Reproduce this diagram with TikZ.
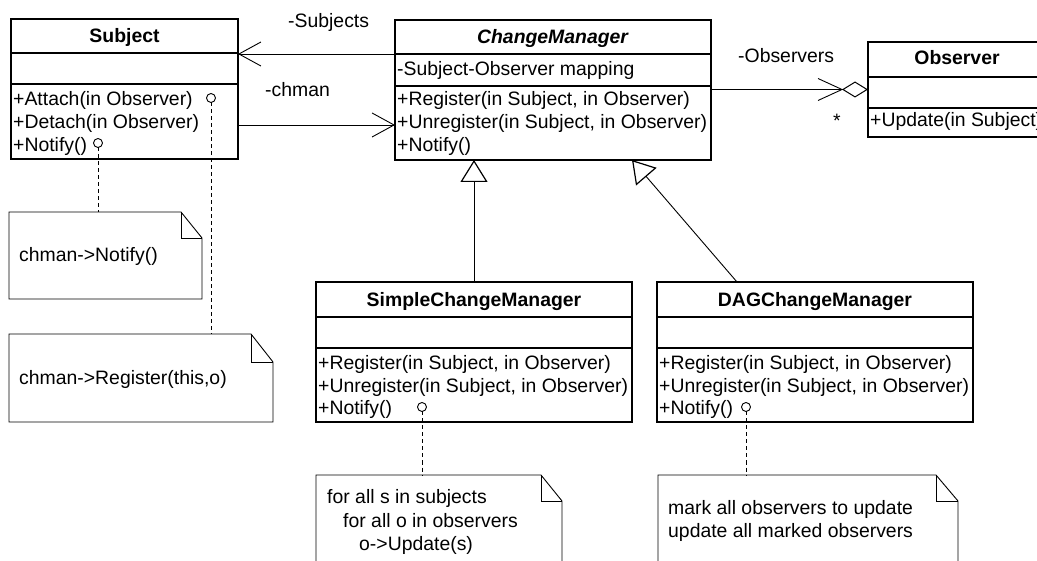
\documentclass[tikz,border=0pt]{standalone}
\usepackage{fontspec}
\setmainfont{Liberation Sans}
\usetikzlibrary{arrows.meta,calc}
\tikzset{
 cls/.style={draw, line width=1.4pt, anchor=north west, inner sep=0pt, outer sep=0pt, fill=white},
 sepline/.style={line width=1.4pt},
 txt/.style={inner sep=0pt, font=\fontsize{19.4}{23}\selectfont},
 assoc/.style={line width=0.9pt, -{Straight Barb[length=22pt,width=24pt,line width=0.9pt]}},
 gen/.style={line width=0.9pt, -{Triangle[open,length=22pt,width=27pt,line width=1.2pt]}},
 notebox/.style={anchor=north west, inner sep=0pt, outer sep=0pt},
 noteline/.style={line width=0.9pt, line join=miter},
 lolli/.style={circle, draw, line width=0.9pt, minimum size=9pt, inner sep=0pt, outer sep=0pt, fill=white},
 notelink/.style={line width=1pt, dash pattern=on 4pt off 3pt},
}
\newcommand{\umlnote}[3]{%
 \draw[noteline] (#1.north west) -- ($(#1.north east)+(-#2,0)$) -- ($(#1.north east)+(0,#3)$) -- (#1.south east) -- (#1.south west) -- cycle;
 \draw[noteline] ($(#1.north east)+(-#2,0)$) -- ($(#1.north east)+(-#2,#3)$) -- ($(#1.north east)+(0,#3)$);}
\begin{document}
\begin{tikzpicture}[x=1pt,y=-1pt]
\useasboundingbox (0,0) rectangle (1037,561);
\fill[white] (0,0) rectangle (1037,561);
\clip (0,0) rectangle (1037,561);

% ---------- Subject ----------
\node[cls, minimum width=227pt, minimum height=140pt] (subj) at (11,19) {};
\draw[sepline] ($(subj.north west)+(0,34)$) -- ($(subj.north east)+(0,34)$);
\draw[sepline] ($(subj.north west)+(0,65)$) -- ($(subj.north east)+(0,65)$);
\node[txt, anchor=base] (subjT) at ($(subj.north)+(0,24)$) {\textbf{Subject}};
\node[txt, anchor=base west] (subjO1) at ($(subj.north west)+(2,87)$) {+Attach(in Observer)};
\node[txt, anchor=base west] (subjO2) at ($(subj.north west)+(2,110)$) {+Detach(in Observer)};
\node[txt, anchor=base west] (subjO3) at ($(subj.north west)+(2,133)$) {+Notify()};

% ---------- ChangeManager ----------
\node[cls, minimum width=316pt, minimum height=140pt] (cm) at (395,20) {};
\draw[sepline] ($(cm.north west)+(0,34)$) -- ($(cm.north east)+(0,34)$);
\draw[sepline] ($(cm.north west)+(0,66)$) -- ($(cm.north east)+(0,66)$);
\node[txt, anchor=base] (cmT) at ($(cm.north)+(0,23.5)$) {\textbf{\textit{ChangeManager}}};
\node[txt, anchor=base west] (cmA1) at ($(cm.north west)+(2,55.5)$) {-Subject-Observer mapping};
\node[txt, anchor=base west] (cmO1) at ($(cm.north west)+(2,86)$) {+Register(in Subject, in Observer)};
\node[txt, anchor=base west] (cmO2) at ($(cm.north west)+(2,109)$) {+Unregister(in Subject, in Observer)};
\node[txt, anchor=base west] (cmO3) at ($(cm.north west)+(2,132)$) {+Notify()};

% ---------- Observer ----------
\node[cls, minimum width=178pt, minimum height=95pt] (obs) at (868,42) {};
\draw[sepline] ($(obs.north west)+(0,35)$) -- ($(obs.north east)+(0,35)$);
\draw[sepline] ($(obs.north west)+(0,66)$) -- ($(obs.north east)+(0,66)$);
\node[txt, anchor=base] (obsT) at ($(obs.north)+(0,23)$) {\textbf{Observer}};
\node[txt, anchor=base west] (obsO1) at ($(obs.north west)+(2,85)$) {+Update(in Subject)};

% ---------- SimpleChangeManager ----------
\node[cls, minimum width=316pt, minimum height=140pt] (scm) at (316,282) {};
\draw[sepline] ($(scm.north west)+(0,35)$) -- ($(scm.north east)+(0,35)$);
\draw[sepline] ($(scm.north west)+(0,66)$) -- ($(scm.north east)+(0,66)$);
\node[txt, anchor=base] (scmT) at ($(scm.north)+(0,24.5)$) {\textbf{SimpleChangeManager}};
\node[txt, anchor=base west] (scmO1) at ($(scm.north west)+(2,88)$) {+Register(in Subject, in Observer)};
\node[txt, anchor=base west] (scmO2) at ($(scm.north west)+(2,111)$) {+Unregister(in Subject, in Observer)};
\node[txt, anchor=base west] (scmO3) at ($(scm.north west)+(2,133)$) {+Notify()};

% ---------- DAGChangeManager ----------
\node[cls, minimum width=316pt, minimum height=140pt] (dcm) at (657,282) {};
\draw[sepline] ($(dcm.north west)+(0,35)$) -- ($(dcm.north east)+(0,35)$);
\draw[sepline] ($(dcm.north west)+(0,66)$) -- ($(dcm.north east)+(0,66)$);
\node[txt, anchor=base] (dcmT) at ($(dcm.north)+(0,24.5)$) {\textbf{DAGChangeManager}};
\node[txt, anchor=base west] (dcmO1) at ($(dcm.north west)+(2,88)$) {+Register(in Subject, in Observer)};
\node[txt, anchor=base west] (dcmO2) at ($(dcm.north west)+(2,111)$) {+Unregister(in Subject, in Observer)};
\node[txt, anchor=base west] (dcmO3) at ($(dcm.north west)+(2,133)$) {+Notify()};

% ---------- Notes ----------
\node[notebox, minimum width=193pt, minimum height=87pt] (n1) at (9,212) {};
\umlnote{n1}{21}{26}
\node[txt, anchor=base west] (n1t) at ($(n1.north west)+(10,50)$) {chman->Notify()};

\node[notebox, minimum width=264pt, minimum height=88pt] (n2) at (9,334) {};
\umlnote{n2}{22}{28}
\node[txt, anchor=base west] (n2t) at ($(n2.north west)+(10,51)$) {chman->Register(this,o)};

\node[notebox, minimum width=246pt, minimum height=120pt] (n3) at (316,475) {};
\umlnote{n3}{21}{26}
\node[txt, anchor=base west] (n3t1) at ($(n3.north west)+(11,28)$) {for all s in subjects};
\node[txt, anchor=base west] (n3t2) at ($(n3.north west)+(27,52)$) {for all o in observers};
\node[txt, anchor=base west] (n3t3) at ($(n3.north west)+(43,75)$) {o->Update(s)};

\node[notebox, minimum width=300pt, minimum height=120pt] (n4) at (658,475) {};
\umlnote{n4}{22}{26}
\node[txt, anchor=base west] (n4t1) at ($(n4.north west)+(10,39)$) {mark all observers to update};
\node[txt, anchor=base west] (n4t2) at ($(n4.north west)+(10,62)$) {update all marked observers};

% ---------- Lollipops and note links ----------
\node[lolli] (lA) at (211,98) {};
\node[lolli] (lN) at (98,143) {};
\node[lolli] (lS) at (422,407) {};
\node[lolli] (lD) at (746,407) {};
\draw[notelink] (lA.south) -- (lA.south |- n2.north);
\draw[notelink] (lN.south) -- (lN.south |- n1.north);
\draw[notelink] (lS.south) -- (lS.south |- n3.north);
\draw[notelink] (lD.south) -- (lD.south |- n4.north);

% ---------- Associations ----------
\draw[assoc] ($(cm.north west)+(0,34)$) -- ($(subj.north east)+(0,35)$);
\node[txt, anchor=base west] (lblS) at (288,28) {-Subjects};
\draw[assoc] ($(subj.north east)+(0,106)$) -- ($(cm.north west)+(0,105)$);
\node[txt, anchor=base west] (lblC) at (265,97) {-chman};

\draw[line width=0.9pt, -{Diamond[open,length=26pt,width=16pt,line width=1pt]}] (cm.east |- obs.west) -- (obs.west);
\coordinate (dback) at ($(obs.west)+(-26,0)$);
\draw[line width=0.9pt] ($(dback)+(-24,-11)$) -- (dback) -- ($(dback)+(-24,11)$);
\node[txt, anchor=base west] (lblO) at (738,63) {-Observers};
\node[txt, anchor=base] (lblM) at (837,128) {*};

% ---------- Generalizations ----------
\draw[gen] (scm.north) -- (scm.north |- cm.south);
\draw[gen] ($(dcm.north west)+(80,0)$) -- ($(cm.south east)+(-79,0)$);
\end{tikzpicture}
\end{document}
